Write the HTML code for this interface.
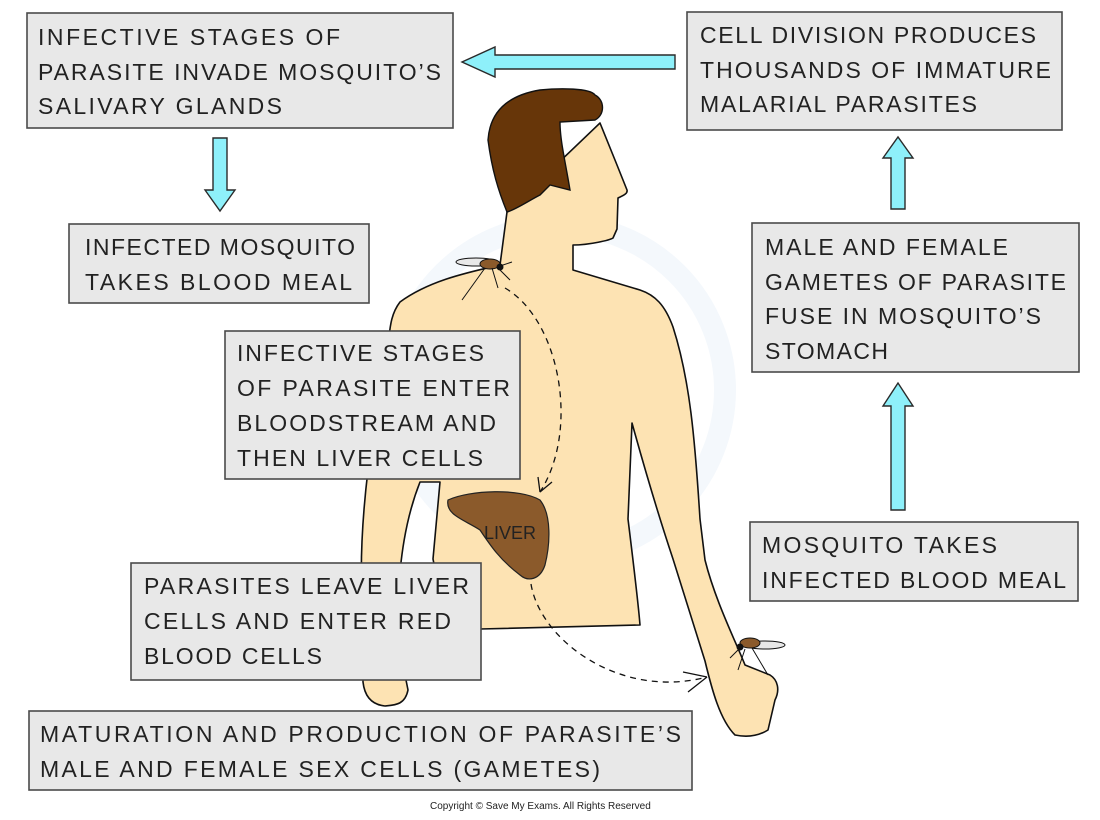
<!DOCTYPE html>
<html><head><meta charset="utf-8"><style>
html,body{margin:0;padding:0;background:#fff;}
svg{display:block}
text{font-family:"Liberation Sans",sans-serif;font-size:23px;fill:#222;}
.b{fill:#e8e8e8;stroke:#4a4a4a;stroke-width:1.6}
.ar{fill:#8ef0fa;stroke:#2a2a2a;stroke-width:1.4;stroke-linejoin:miter}
.sk{fill:#fde3b3;stroke:#111;stroke-width:1.6;stroke-linejoin:round}
</style></head><body>
<svg width="1100" height="820" viewBox="0 0 1100 820" xmlns="http://www.w3.org/2000/svg">
<circle cx="560" cy="390" r="165" fill="none" stroke="#f4f8fc" stroke-width="22"/>
<path class="sk" d="M507,212 L500,265 C470,272 430,280 400,302 C390,315 390,330 388,345 L368,470 C362,520 360,560 362,600 L363,682 C365,700 375,705 385,706 C395,705 405,705 408,690 L402,660 L398,600 C400,560 405,520 420,482 L440,482 L433,559 C440,600 470,629 480,629 L640,625 C638,600 633,560 628,519 L632,423 C645,470 660,520 673,559 L705,661 C712,690 720,720 735,735 C750,738 760,735 768,730 L775,700 C780,690 778,680 770,675 L745,665 C735,640 715,600 705,560 L700,519 C695,440 690,380 673,327 C665,305 655,295 640,290 L573,270 L573,245 C590,245 610,240 613,238 L617,229 L618,198 C622,196 628,194 627,190 L617,165 L600,123 Z"/>
<path d="M540,90 C560,88 590,88 595,95 C605,100 605,115 595,120 L560,122 C560,140 565,160 570,190 L550,185 L540,195 C530,200 515,210 507,212 C498,190 492,170 488,140 C490,110 510,95 540,90 Z" fill="#673609" stroke="#111" stroke-width="1.4"/>
<path d="M448,500 C470,490 520,488 540,500 C552,515 550,545 545,565 C540,580 528,582 520,575 C500,560 490,545 480,530 C465,520 445,515 448,500 Z" fill="#8b5a2b" stroke="#222" stroke-width="1.2"/>
<text x="484" y="539" style="font-size:18px" fill="#111">LIVER</text>
<path d="M505,288 C560,320 580,430 540,492" fill="none" stroke="#111" stroke-width="1.3" stroke-dasharray="6,5"/>
<path d="M540,492 L538,477 M540,492 L552,482" stroke="#111" stroke-width="1.3" fill="none"/>
<path d="M531,584 C540,640 620,700 707,677" fill="none" stroke="#111" stroke-width="1.3" stroke-dasharray="6,5"/>
<path d="M707,677 L683,672 M707,677 L688,692" stroke="#111" stroke-width="1.3" fill="none"/>
<g stroke="#111" stroke-width="1">
<ellipse cx="476" cy="262" rx="20" ry="4" fill="#e8e8e8"/>
<ellipse cx="490" cy="264" rx="10" ry="5" fill="#8b5a2b"/>
<circle cx="500" cy="267" r="3" fill="#111"/>
<path d="M485,268 L462,300 M492,268 L498,288 M498,268 L510,280 M500,266 L512,262" fill="none"/>
<ellipse cx="765" cy="645" rx="20" ry="4" fill="#e8e8e8"/>
<ellipse cx="750" cy="643" rx="10" ry="5" fill="#8b5a2b"/>
<circle cx="740" cy="647" r="3" fill="#111"/>
<path d="M752,648 L768,675 M745,649 L738,670 M740,648 L730,658" fill="none"/>
</g>
<path class="ar" d="M675,55 L495,55 L495,47 L462,62 L495,77 L495,69 L675,69 Z"/>
<path class="ar" d="M213,138 L227,138 L227,190 L235,190 L220,211 L205,190 L213,190 Z"/>
<path class="ar" d="M891,209 L905,209 L905,158 L913,158 L898,137 L883,158 L891,158 Z"/>
<path class="ar" d="M891,510 L905,510 L905,406 L913,406 L898,383 L883,406 L891,406 Z"/>
<rect class="b" x="27" y="13" width="426" height="115"/>
<text x="38" y="45" textLength="302" lengthAdjust="spacing">INFECTIVE STAGES OF</text>
<text x="38" y="80" textLength="403" lengthAdjust="spacing">PARASITE INVADE MOSQUITO’S</text>
<text x="38" y="114" textLength="244" lengthAdjust="spacing">SALIVARY GLANDS</text>
<rect class="b" x="687" y="12" width="375" height="118"/>
<text x="700" y="43" textLength="336" lengthAdjust="spacing">CELL DIVISION PRODUCES</text>
<text x="700" y="78" textLength="351" lengthAdjust="spacing">THOUSANDS OF IMMATURE</text>
<text x="700" y="112" textLength="277" lengthAdjust="spacing">MALARIAL PARASITES</text>
<rect class="b" x="69" y="224" width="300" height="79"/>
<text x="85" y="255" textLength="270" lengthAdjust="spacing">INFECTED MOSQUITO</text>
<text x="85" y="290" textLength="267" lengthAdjust="spacing">TAKES BLOOD MEAL</text>
<rect class="b" x="752" y="223" width="327" height="149"/>
<text x="765" y="255" textLength="243" lengthAdjust="spacing">MALE AND FEMALE</text>
<text x="765" y="290" textLength="301" lengthAdjust="spacing">GAMETES OF PARASITE</text>
<text x="765" y="324" textLength="276" lengthAdjust="spacing">FUSE IN MOSQUITO’S</text>
<text x="765" y="359" textLength="123" lengthAdjust="spacing">STOMACH</text>
<rect class="b" x="225" y="331" width="295" height="148"/>
<text x="237" y="361" textLength="247" lengthAdjust="spacing">INFECTIVE STAGES</text>
<text x="237" y="396" textLength="273" lengthAdjust="spacing">OF PARASITE ENTER</text>
<text x="237" y="431" textLength="259" lengthAdjust="spacing">BLOODSTREAM AND</text>
<text x="237" y="466" textLength="246" lengthAdjust="spacing">THEN LIVER CELLS</text>
<rect class="b" x="750" y="522" width="328" height="79"/>
<text x="762" y="553" textLength="235" lengthAdjust="spacing">MOSQUITO TAKES</text>
<text x="762" y="588" textLength="304" lengthAdjust="spacing">INFECTED BLOOD MEAL</text>
<rect class="b" x="131" y="563" width="350" height="117"/>
<text x="144" y="594" textLength="325" lengthAdjust="spacing">PARASITES LEAVE LIVER</text>
<text x="144" y="629" textLength="307" lengthAdjust="spacing">CELLS AND ENTER RED</text>
<text x="144" y="664" textLength="178" lengthAdjust="spacing">BLOOD CELLS</text>
<rect class="b" x="29" y="711" width="663" height="79"/>
<text x="40" y="742" textLength="641" lengthAdjust="spacing">MATURATION AND PRODUCTION OF PARASITE’S</text>
<text x="40" y="777" textLength="560" lengthAdjust="spacing">MALE AND FEMALE SEX CELLS (GAMETES)</text>
<text x="430" y="809" style="font-size:10px" fill="#999">Copyright © Save My Exams. All Rights Reserved</text>
</svg>
</body></html>
